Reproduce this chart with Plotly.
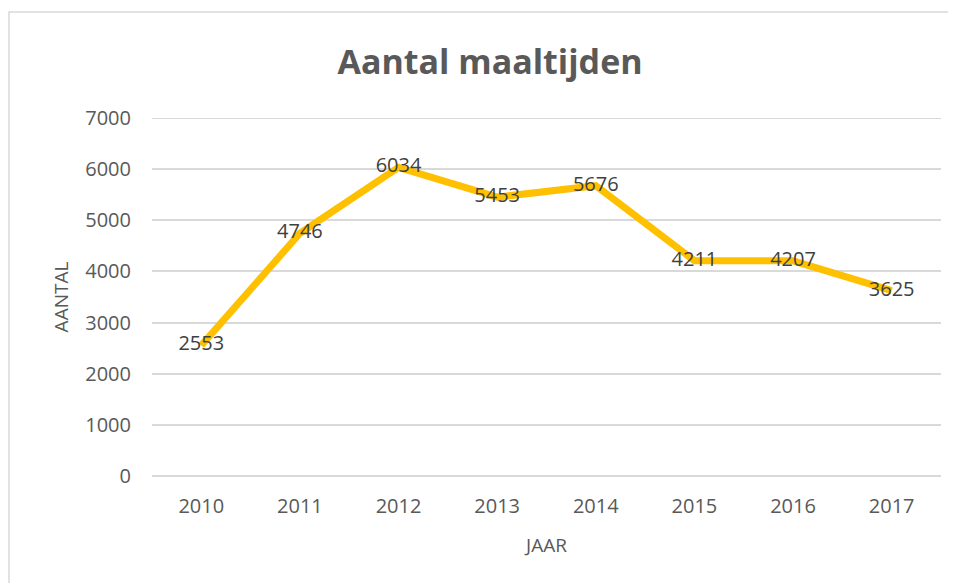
import plotly.graph_objects as go

years = ["2010", "2011", "2012", "2013", "2014", "2015", "2016", "2017"]
aantal = [2553, 4746, 6034, 5453, 5676, 4211, 4207, 3625]
y_ticks = [0, 1000, 2000, 3000, 4000, 5000, 6000, 7000]

FONT = "Open Sans"
GREY = "#595959"

fig = go.Figure()
fig.add_trace(go.Scatter(
    x=years, y=aantal, mode="lines+text",
    line=dict(color="#FFC000", width=7),
    text=[str(v) for v in aantal], textposition="middle center",
    textfont=dict(family=FONT, size=20, color="#404040"),
    hoverinfo="skip", showlegend=False,
))

# page body has an 8px margin; figure sized to fit the window
W, H = 948, 575
L, R, T, B = 144, 15, 110, 107
pw, ph = W - L - R, H - T - B

fig.update_layout(
    width=W, height=H,
    margin=dict(l=L, r=R, t=T, b=B),
    paper_bgcolor="white", plot_bgcolor="white",
    title=dict(text="<b>Aantal maaltijden</b>", x=482 / W, xanchor="center",
               y=1 - 54 / H, yanchor="middle",
               font=dict(family=FONT, size=34, color=GREY)),
    xaxis=dict(type="category", range=[-0.5, 7.5], showgrid=False, showline=False,
               ticks="", ticklabelstandoff=16,
               tickfont=dict(family=FONT, size=20, color=GREY),
               title=dict(text="JAAR", font=dict(family=FONT, size=19, color=GREY), standoff=20)),
    yaxis=dict(range=[0, 7000], tickvals=y_ticks, showgrid=True, gridcolor="#D9D9D9",
               gridwidth=2, zeroline=True, zerolinecolor="#D9D9D9", zerolinewidth=2,
               showline=False, ticks="", ticklabelstandoff=20,
               tickfont=dict(family=FONT, size=20, color=GREY),
               title=dict(text="AANTAL", font=dict(family=FONT, size=19, color=GREY), standoff=11)),
    shapes=[
        dict(type="rect", xref="paper", yref="paper",
             x0=(1 - L) / pw, x1=1 + (R + 20) / pw,
             y0=-(B + 20) / ph, y1=1 + (T - 4) / ph,
             line=dict(color="#D9D9D9", width=1.5), fillcolor="rgba(0,0,0,0)", layer="below"),
        dict(type="line", xref="paper", yref="y", x0=0, x1=1, y0=y_ticks[-1], y1=y_ticks[-1],
             line=dict(color="#D9D9D9", width=2), layer="below"),
    ],
)

fig.write_html("out.html")
